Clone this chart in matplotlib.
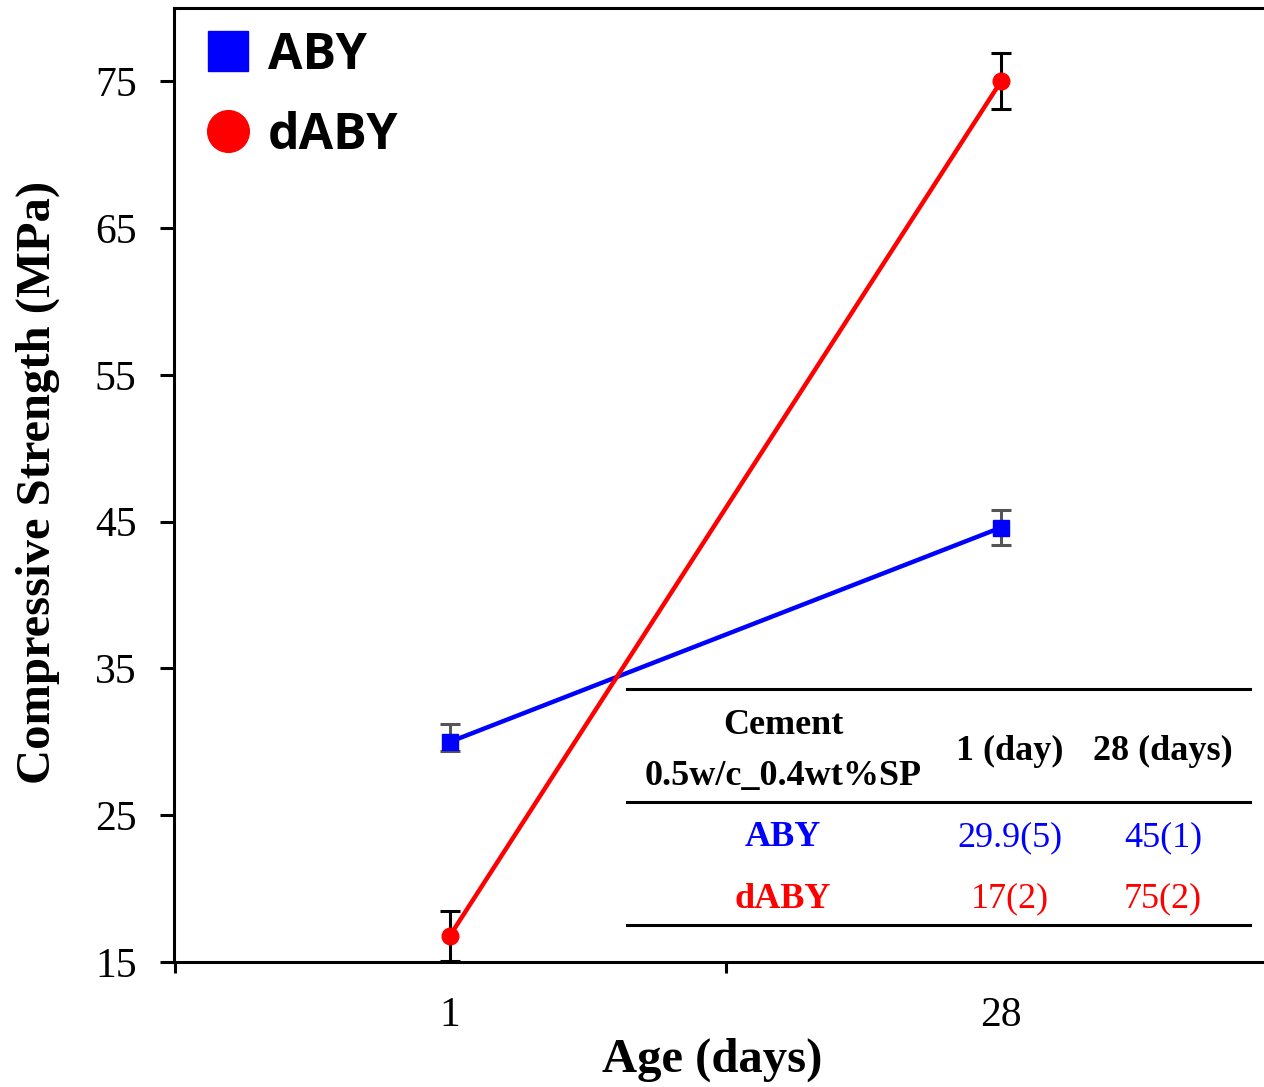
import matplotlib
matplotlib.use("Agg")
import matplotlib.pyplot as plt
from matplotlib.lines import Line2D

# data
ages = ["1", "28"]
x_pos = [1, 2]
aby_mean = [30.0, 44.6]
aby_err_low = [0.6, 1.2]
aby_err_high = [1.2, 1.2]
daby_mean = [16.8, 75.0]
daby_err = [1.7, 1.9]

table_header = ["Cement", "0.5w/c_0.4wt%SP", "1 (day)", "28 (days)"]
table_rows = [
    ["ABY", "29.9(5)", "45(1)"],
    ["dABY", "17(2)", "75(2)"],
]
row_colors = ["#0000ff", "#ff0000"]

serif = "Liberation Serif"

fig = plt.figure(figsize=(12.64, 10.87), dpi=100)
ax = fig.add_axes([174 / 1264, 125 / 1087, 1 - 174 / 1264, (962 - 8) / 1087])

ax.errorbar(x_pos, aby_mean, yerr=[aby_err_low, aby_err_high],
            color="#0000ff", lw=3.2, marker="s", ms=11, ecolor="#555555",
            elinewidth=2.2, capsize=7, capthick=2.2, zorder=3)
ax.errorbar(x_pos, daby_mean, yerr=daby_err, color="#ff0000", lw=3.2,
            marker="o", ms=12, ecolor="black", elinewidth=2.2,
            capsize=7, capthick=2.2, zorder=3)

ax.set_ylim(15, 80)
ax.set_xlim(1 - 276 / 551, 2 + 263 / 551)
ax.set_yticks([15, 25, 35, 45, 55, 65, 75])
ax.set_xticks([0.5, 1.5])
ax.set_xticklabels([])
ax.set_xticks(x_pos, minor=True)
ax.set_xticklabels(ages, minor=True)
ax.tick_params(axis="x", which="major", direction="out", length=8, width=2.2)
ax.tick_params(axis="x", which="minor", length=0, pad=25, labelsize=30)
ax.tick_params(axis="y", direction="out", length=10, width=2.2, pad=17,
               labelsize=30)
for lab in ax.get_xticklabels(minor=True) + ax.get_yticklabels():
    lab.set_fontfamily(serif)

ax.spines["right"].set_visible(False)
for s in ["left", "bottom", "top"]:
    ax.spines[s].set_linewidth(2.2)


# table / label placement helpers, pixel -> axes fraction
def fx(px):
    return (px - 174) / (1264 - 174)


def fy(py):
    return (962 - py) / (962 - 8)


ax.set_xlabel("Age (days)", fontfamily=serif, fontweight="bold", fontsize=35)
ax.xaxis.set_label_coords(fx(712), fy(1060))
ax.xaxis.label.set_va("center")
ax.set_ylabel("Compressive Strength (MPa)", fontfamily=serif,
              fontweight="bold", fontsize=35)
ax.yaxis.set_label_coords(fx(38), fy(482))
ax.yaxis.label.set_va("center")

handles = [
    Line2D([], [], ls="none", marker="s", ms=29, color="#0000ff"),
    Line2D([], [], ls="none", marker="o", ms=30, color="#ff0000"),
]
ax.legend(handles, ["ABY", "dABY"], loc="upper left", frameon=False,
          prop={"family": "Open Sans", "weight": "bold", "size": 36},
          handlelength=1.0, handletextpad=0.3, labelspacing=0.6,
          borderaxespad=0.0, bbox_to_anchor=(0.008, 0.997))

for py in [689, 802, 925]:
    ax.plot([fx(627), fx(1250)], [fy(py), fy(py)], color="black", lw=2.2,
            transform=ax.transAxes, clip_on=False)

fs = 26
col_x = [783, 1010, 1163]
ax.text(fx(col_x[0]), fy(726), table_header[0], transform=ax.transAxes,
        ha="center", va="center", fontfamily=serif, fontweight="bold",
        fontsize=fs)
ax.text(fx(col_x[0]), fy(776), table_header[1], transform=ax.transAxes,
        ha="center", va="center", fontfamily=serif, fontweight="bold",
        fontsize=fs)
for cx, h in zip(col_x[1:], table_header[2:]):
    ax.text(fx(cx), fy(751), h, transform=ax.transAxes, ha="center",
            va="center", fontfamily=serif, fontweight="bold", fontsize=fs)

for row, color, py in zip(table_rows, row_colors, [838, 899]):
    ax.text(fx(col_x[0]), fy(py), row[0], transform=ax.transAxes,
            ha="center", va="center", fontfamily=serif, fontweight="bold",
            fontsize=fs, color=color)
    for cx, val in zip(col_x[1:], row[1:]):
        ax.text(fx(cx), fy(py), val, transform=ax.transAxes, ha="center",
                va="center", fontfamily=serif, fontsize=fs, color=color)

fig.savefig("out.png", dpi=100)
